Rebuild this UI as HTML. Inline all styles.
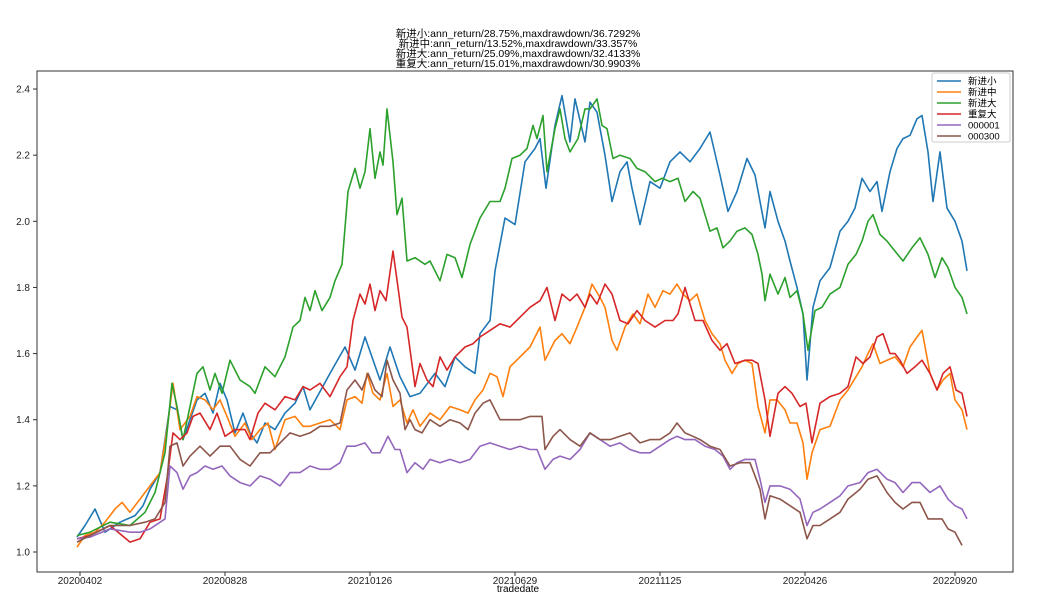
<!DOCTYPE html>
<html><head><meta charset="utf-8"><style>
body{margin:0;background:#fff;}
svg text{font-family:"Liberation Sans","Noto Sans CJK SC",sans-serif;}
</style></head><body>
<svg id="chart" width="1037" height="604" viewBox="0 0 1037 604" xmlns="http://www.w3.org/2000/svg">
<rect width="1037" height="604" fill="#fff"/>
<g font-size="10.5" text-anchor="middle" fill="#000">
<text x="518" y="37">新进小:ann_return/28.75%,maxdrawdown/36.7292%</text>
<text x="518" y="47">新进中:ann_return/13.52%,maxdrawdown/33.357%</text>
<text x="518" y="57">新进大:ann_return/25.09%,maxdrawdown/32.4133%</text>
<text x="518" y="67">重复大:ann_return/15.01%,maxdrawdown/30.9903%</text>
</g>
<g id="series"></g>
<rect x="37" y="71" width="976" height="501" fill="none" stroke="#333" stroke-width="1"/>
<g id="yaxis" font-size="10" fill="#222"></g>
<g id="xaxis" font-size="10" fill="#222"></g>
<text x="518" y="592" font-size="10" text-anchor="middle">tradedate</text>
<g id="legend"></g>
</svg>
<script>
const seriesNames=["新进小","新进中","新进大","重复大","000001","000300"];
const seriesColors=["#1f77b4","#ff7f0e","#2ca02c","#d62728","#9467bd","#8c564b"];
const yTicks=[1.0,1.2,1.4,1.6,1.8,2.0,2.2,2.4];
const xTickDays=[3,148,293,438,583,728,878];
const xTickLabels=["20200402","20200828","20210126","20210629","20211125","20220426","20220920"];
// x positions in trading-day units
const blueDays=[0,8,18,28,43,58,66,73,83,93,100,106,113,120,128,136,143,150,158,166,173,180,188,198,208,218,226,233,253,268,278,288,303,313,323,333,343,358,368,378,388,398,403,413,418,428,438,448,458,463,469,478,485,493,498,508,513,520,528,535,543,550,555,563,573,583,593,603,613,623,633,643,651,660,670,678,688,693,701,708,713,720,726,730,736,743,753,763,771,778,785,793,800,805,813,820,826,833,840,845,851,856,863,870,878,885,890];
const blueVals=[1.045,1.08,1.13,1.06,1.09,1.11,1.14,1.19,1.24,1.44,1.43,1.34,1.40,1.46,1.48,1.42,1.51,1.46,1.36,1.42,1.36,1.33,1.39,1.37,1.42,1.45,1.50,1.43,1.54,1.62,1.55,1.65,1.52,1.62,1.53,1.47,1.48,1.54,1.50,1.59,1.56,1.54,1.66,1.70,1.85,2.01,1.99,2.18,2.22,2.25,2.10,2.29,2.38,2.24,2.37,2.24,2.36,2.33,2.20,2.06,2.15,2.18,2.10,1.99,2.12,2.10,2.18,2.21,2.18,2.22,2.27,2.14,2.03,2.09,2.19,2.14,1.98,2.09,2.00,1.94,1.88,1.80,1.72,1.52,1.74,1.82,1.86,1.97,2.00,2.04,2.13,2.09,2.12,2.03,2.15,2.22,2.25,2.26,2.31,2.32,2.21,2.06,2.21,2.04,2.00,1.94,1.85];
const orangeDays=[0,8,18,28,38,45,53,63,73,83,90,96,103,113,120,128,136,143,150,158,168,175,183,191,198,208,218,226,233,243,253,263,270,278,285,290,296,303,310,316,323,330,336,343,353,363,373,383,391,398,406,413,420,426,433,443,453,463,468,478,485,493,500,508,515,523,528,535,540,548,556,563,571,578,586,593,600,606,613,620,628,635,643,648,655,661,668,675,681,688,693,700,708,713,720,726,730,735,743,753,763,771,779,785,791,796,803,810,818,826,833,840,845,853,860,866,873,878,885,890];
const orangeVals=[1.015,1.05,1.06,1.09,1.13,1.15,1.12,1.16,1.20,1.24,1.37,1.51,1.37,1.41,1.47,1.46,1.43,1.46,1.41,1.35,1.39,1.34,1.37,1.39,1.31,1.40,1.41,1.38,1.38,1.39,1.40,1.37,1.46,1.47,1.45,1.54,1.48,1.46,1.54,1.44,1.46,1.39,1.43,1.38,1.42,1.40,1.44,1.43,1.42,1.46,1.49,1.54,1.53,1.47,1.56,1.59,1.62,1.68,1.58,1.64,1.66,1.63,1.68,1.74,1.81,1.77,1.74,1.64,1.61,1.68,1.72,1.69,1.78,1.74,1.79,1.78,1.81,1.78,1.76,1.78,1.70,1.66,1.63,1.58,1.54,1.57,1.58,1.57,1.44,1.36,1.46,1.46,1.43,1.39,1.39,1.33,1.22,1.30,1.37,1.38,1.46,1.49,1.53,1.56,1.60,1.63,1.57,1.58,1.59,1.56,1.62,1.65,1.67,1.54,1.49,1.52,1.54,1.46,1.43,1.37];
const greenDays=[0,13,33,53,68,78,88,95,100,106,113,120,126,133,138,145,153,163,173,178,188,198,208,216,223,228,233,238,245,253,258,265,271,278,283,288,293,298,303,306,310,316,320,325,330,338,348,353,363,370,378,385,393,403,413,423,428,435,443,450,456,460,466,470,478,483,488,493,501,508,513,520,525,530,536,543,553,560,568,578,585,593,601,608,616,623,633,640,646,653,660,668,675,681,685,688,693,701,708,713,720,726,731,738,745,753,763,771,779,785,791,796,803,810,818,826,835,843,851,858,865,871,878,885,890];
const greenVals=[1.05,1.06,1.09,1.08,1.12,1.18,1.30,1.51,1.44,1.34,1.44,1.54,1.56,1.49,1.54,1.48,1.58,1.52,1.50,1.48,1.56,1.53,1.59,1.68,1.70,1.77,1.73,1.79,1.73,1.77,1.82,1.87,2.09,2.16,2.10,2.15,2.28,2.13,2.21,2.17,2.34,2.18,2.02,2.07,1.88,1.89,1.87,1.88,1.82,1.90,1.89,1.83,1.93,2.01,2.06,2.06,2.10,2.19,2.20,2.22,2.29,2.25,2.32,2.15,2.28,2.34,2.25,2.21,2.25,2.34,2.34,2.37,2.29,2.28,2.19,2.20,2.19,2.16,2.15,2.12,2.13,2.12,2.13,2.06,2.09,2.07,1.97,1.98,1.92,1.94,1.97,1.98,1.96,1.90,1.84,1.76,1.84,1.78,1.83,1.77,1.79,1.72,1.61,1.73,1.74,1.78,1.80,1.87,1.90,1.94,2.00,2.02,1.96,1.94,1.91,1.88,1.92,1.95,1.90,1.83,1.89,1.86,1.80,1.77,1.72];
const redDays=[0,13,33,53,63,73,83,90,96,103,110,116,123,133,140,148,158,168,173,181,188,198,208,218,226,233,243,253,263,270,276,283,288,293,298,303,309,316,321,325,330,338,343,350,356,363,370,378,388,396,403,413,423,433,443,453,463,470,478,485,493,500,508,513,520,528,535,543,551,560,568,578,588,596,601,608,618,626,635,643,650,658,668,675,681,688,693,701,708,715,723,729,735,743,753,763,771,779,786,793,800,806,813,818,823,830,838,845,853,860,866,873,879,885,890];
const redVals=[1.04,1.05,1.08,1.03,1.04,1.09,1.10,1.22,1.36,1.34,1.36,1.41,1.42,1.37,1.42,1.35,1.37,1.37,1.34,1.42,1.45,1.43,1.47,1.46,1.50,1.49,1.51,1.47,1.53,1.56,1.70,1.78,1.75,1.81,1.73,1.79,1.76,1.91,1.80,1.71,1.68,1.50,1.57,1.52,1.50,1.59,1.55,1.59,1.62,1.63,1.65,1.67,1.69,1.68,1.71,1.74,1.76,1.80,1.70,1.78,1.76,1.78,1.74,1.78,1.75,1.81,1.78,1.70,1.69,1.73,1.70,1.68,1.70,1.70,1.72,1.80,1.70,1.70,1.64,1.61,1.63,1.57,1.58,1.58,1.57,1.46,1.35,1.48,1.50,1.48,1.44,1.45,1.33,1.45,1.47,1.48,1.50,1.59,1.57,1.59,1.65,1.66,1.60,1.60,1.58,1.54,1.56,1.58,1.54,1.49,1.54,1.56,1.49,1.48,1.41];
const purpleDays=[0,13,33,53,63,73,88,93,100,106,113,120,128,136,145,153,163,173,183,193,203,213,223,233,243,253,263,270,278,288,295,303,311,318,323,330,338,346,353,363,373,383,393,403,413,423,433,443,453,460,468,476,483,493,503,513,523,533,543,553,563,573,583,593,600,608,618,628,638,646,653,660,668,678,683,688,693,703,713,723,730,736,743,753,763,771,783,791,800,810,818,826,835,843,853,863,871,878,885,890];
const purpleVals=[1.04,1.045,1.07,1.06,1.06,1.07,1.10,1.26,1.24,1.19,1.23,1.24,1.26,1.25,1.26,1.23,1.21,1.20,1.23,1.22,1.20,1.24,1.24,1.26,1.25,1.25,1.27,1.32,1.32,1.33,1.30,1.30,1.35,1.31,1.31,1.24,1.27,1.25,1.28,1.27,1.28,1.27,1.28,1.32,1.33,1.32,1.31,1.32,1.31,1.31,1.25,1.28,1.29,1.28,1.31,1.36,1.34,1.32,1.33,1.31,1.30,1.30,1.32,1.34,1.35,1.34,1.34,1.32,1.31,1.29,1.25,1.27,1.28,1.28,1.22,1.15,1.20,1.20,1.19,1.16,1.08,1.12,1.13,1.15,1.17,1.20,1.21,1.24,1.25,1.22,1.21,1.18,1.21,1.21,1.18,1.20,1.16,1.14,1.13,1.10];
const brownDays=[0,13,33,53,68,78,88,93,100,106,113,123,133,143,153,163,173,183,193,203,213,223,233,243,253,263,270,278,285,291,298,305,310,316,323,328,333,338,345,353,363,373,383,391,398,406,413,423,433,443,453,460,465,468,476,483,493,503,513,523,533,543,553,563,573,583,593,600,608,616,623,633,643,653,663,673,683,688,693,703,713,723,730,736,743,753,763,771,783,791,800,810,818,826,835,843,851,858,865,871,878,885,890];
const brownVals=[1.03,1.05,1.08,1.08,1.09,1.10,1.15,1.32,1.33,1.26,1.29,1.32,1.29,1.32,1.32,1.28,1.26,1.30,1.30,1.33,1.36,1.35,1.36,1.38,1.38,1.39,1.49,1.52,1.49,1.54,1.49,1.47,1.58,1.52,1.48,1.37,1.40,1.37,1.36,1.40,1.38,1.40,1.39,1.37,1.42,1.45,1.46,1.40,1.40,1.40,1.41,1.41,1.41,1.31,1.35,1.37,1.34,1.32,1.36,1.34,1.34,1.35,1.36,1.33,1.34,1.34,1.36,1.39,1.36,1.35,1.34,1.32,1.31,1.26,1.27,1.27,1.19,1.10,1.17,1.16,1.14,1.12,1.04,1.08,1.08,1.10,1.12,1.16,1.19,1.22,1.23,1.18,1.15,1.13,1.15,1.15,1.10,1.10,1.10,1.07,1.06,1.02];

const seriesDays=[blueDays,orangeDays,greenDays,redDays,purpleDays,brownDays];
const seriesVals=[blueVals,orangeVals,greenVals,redVals,purpleVals,brownVals];

const NS="http://www.w3.org/2000/svg";
function xScale(d){return 77+d;}
function yScale(v){return 552-(v-1)*330.7;}

const sg=document.getElementById('series');
seriesNames.forEach((name,i)=>{
  const p=document.createElementNS(NS,'path');
  let d='';
  const n=Math.min(seriesDays[i].length,seriesVals[i].length);
  for(let k=0;k<n;k++){d+=(k?'L':'M')+xScale(seriesDays[i][k]).toFixed(1)+' '+yScale(seriesVals[i][k]).toFixed(1);}
  p.setAttribute('d',d);
  p.setAttribute('fill','none');
  p.setAttribute('stroke',seriesColors[i]);
  p.setAttribute('stroke-width','1.6');
  p.setAttribute('stroke-linejoin','round');
  
  
  sg.appendChild(p);
});

const ya=document.getElementById('yaxis');
yTicks.forEach(t=>{
  const y=yScale(t);
  const l=document.createElementNS(NS,'line');
  l.setAttribute('x1',33);l.setAttribute('x2',37);l.setAttribute('y1',y);l.setAttribute('y2',y);l.setAttribute('stroke','#333');
  
  
  ya.appendChild(l);
  const tx=document.createElementNS(NS,'text');
  tx.setAttribute('x',30);tx.setAttribute('y',y+3.5);tx.setAttribute('text-anchor','end');
  tx.textContent=t.toFixed(1);
  
  
  ya.appendChild(tx);
});

const xa=document.getElementById('xaxis');
xTickDays.forEach((d,i)=>{
  const x=xScale(d);
  const l=document.createElementNS(NS,'line');
  l.setAttribute('x1',x);l.setAttribute('x2',x);l.setAttribute('y1',572);l.setAttribute('y2',576);l.setAttribute('stroke','#333');
  
  
  xa.appendChild(l);
  const tx=document.createElementNS(NS,'text');
  tx.setAttribute('x',x);tx.setAttribute('y',584);tx.setAttribute('text-anchor','middle');
  tx.textContent=xTickLabels[i];
  
  
  xa.appendChild(tx);
});

const lg=document.getElementById('legend');
const box=document.createElementNS(NS,'rect');
box.setAttribute('x',932);box.setAttribute('y',73);box.setAttribute('width',78);box.setAttribute('height',69);
box.setAttribute('fill','#fff');box.setAttribute('stroke','#ccc');box.setAttribute('rx',2);


lg.appendChild(box);
seriesNames.forEach((n,i)=>{
  const y=81+i*11;
  const g=document.createElementNS(NS,'g');
  
  
  const l=document.createElementNS(NS,'line');
  l.setAttribute('x1',937);l.setAttribute('x2',961);l.setAttribute('y1',y);l.setAttribute('y2',y);
  l.setAttribute('stroke',seriesColors[i]);l.setAttribute('stroke-width','1.5');
  g.appendChild(l);
  const t=document.createElementNS(NS,'text');
  t.setAttribute('x',968);t.setAttribute('y',y+3.5);t.setAttribute('font-size','9.5');
  t.textContent=n;
  g.appendChild(t);
  lg.appendChild(g);
});
</script>
</body></html>
